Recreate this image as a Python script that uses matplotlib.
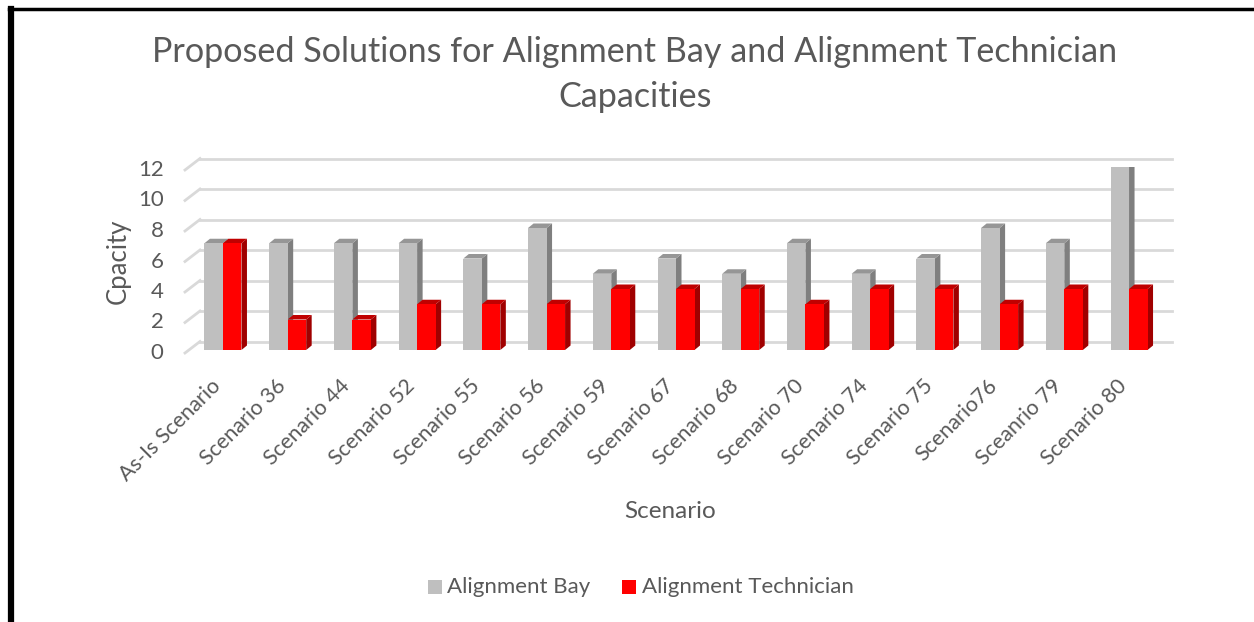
import matplotlib
matplotlib.use('Agg')
import matplotlib.pyplot as plt
import matplotlib.transforms as mtransforms
from matplotlib.patches import Polygon, Rectangle
from matplotlib.lines import Line2D

# Datos
escenarios = ['As-Is Scenario', 'Scenario 36', 'Scenario 44', 'Scenario 52', 'Scenario 55',
              'Scenario 56', 'Scenario 59', 'Scenario 67', 'Scenario 68', 'Scenario 70',
              'Scenario 74', 'Scenario 75', 'Scenario76', 'Sceanrio 79', 'Scenario 80']
bahia = [7, 7, 7, 7, 6, 8, 5, 6, 5, 7, 5, 6, 8, 7, 12]
tecnico = [7, 2, 2, 3, 3, 3, 4, 4, 4, 3, 4, 4, 3, 4, 4]
yticks = [0, 2, 4, 6, 8, 10, 12]

W, H = 1254, 622
FONT = 'Lato'
TXT = '#595959'

def fx(px):
    return px / W

def fy(py):
    return 1 - py / H

fig = plt.figure(figsize=(W / 100, H / 100), dpi=100)

# area de la grafica en pixeles (frente)
x_izq, x_der = 190.6, 1161.4
y_0, y_12 = 350, 167
ax = fig.add_axes([fx(x_izq), fy(y_0), (x_der - x_izq) / W, (y_0 - y_12) / H])
ax.set_xlim(-0.5, len(escenarios) - 0.5)
ax.set_ylim(0, 12)
ax.axis('off')

px_x = (x_der - x_izq) / len(escenarios)
px_y = (y_0 - y_12) / 12.0

# lineas de la cuadricula (pared del fondo + diagonal del piso)
for v in yticks:
    back = mtransforms.offset_copy(ax.transData, fig=fig, x=9.4, y=8.5, units='dots')
    ax.plot([-0.5, len(escenarios) - 0.5 + 1.2 / px_x], [v, v], color='#D9D9D9', lw=2,
            transform=back, clip_on=False, zorder=0)
    ax.plot([-0.5 - 5.6 / px_x, -0.5 + 9.4 / px_x], [v - 3 / px_y, v + 8.5 / px_y],
            color='#D9D9D9', lw=2, clip_on=False, zorder=0)
    ax.text(-0.5 - 27 / px_x, v - 3 / px_y, str(v), ha='right', va='center',
            fontsize=16, color=TXT, family=FONT)

# barras con efecto 3D
ancho = 18.5 / px_x
dx = 5.5 / px_x
dy = 4.5 / px_y
series = [(bahia, -ancho / 2, '#BFBFBF', '#7F7F7F', '#969696'),
          (tecnico, ancho / 2, '#FF0000', '#A00000', '#C00000')]
for valores, desp, c_frente, c_lado, c_arriba in series:
    for i, v in enumerate(valores):
        x0 = i + desp - ancho / 2
        x1 = x0 + ancho
        ax.add_patch(Polygon([(x1, 0), (x1 + dx, dy), (x1 + dx, v + dy), (x1, v)],
                             closed=True, facecolor=c_lado, edgecolor='none', zorder=2))
        ax.add_patch(Polygon([(x0, v), (x0 + dx, v + dy), (x1 + dx, v + dy), (x1, v)],
                             closed=True, facecolor=c_arriba, edgecolor='none', zorder=2))
    ax.bar([i + desp for i in range(len(valores))], valores, width=ancho,
           color=c_frente, zorder=3)

# etiquetas del eje x rotadas
for i, nombre in enumerate(escenarios):
    t = mtransforms.offset_copy(ax.transData, fig=fig, x=-1, y=-37, units='dots')
    ax.text(i, 0, nombre, rotation=45, rotation_mode='anchor', ha='right', va='baseline',
            fontsize=15.5, color=TXT, family=FONT, transform=t)

# titulos
fig.text(fx(635), fy(52), 'Proposed Solutions for Alignment Bay and Alignment Technician',
         ha='center', va='center', fontsize=24.6, color=TXT, family=FONT)
fig.text(fx(635), fy(97), 'Capacities', ha='center', va='center', fontsize=24.6,
         color=TXT, family=FONT)
fig.text(fx(118), fy(261), 'Cpacity', rotation=90, ha='center', va='center',
         fontsize=18.5, color=TXT, family=FONT)
fig.text(fx(670), fy(512), 'Scenario', ha='center', va='center', fontsize=17.5,
         color=TXT, family=FONT)

# leyenda
fig.patches.append(Rectangle((fx(428), fy(594)), 14 / W, 14 / H, facecolor='#BFBFBF',
                             transform=fig.transFigure))
fig.text(fx(447), fy(587), 'Alignment Bay', ha='left', va='center', fontsize=16,
         color=TXT, family=FONT)
fig.patches.append(Rectangle((fx(622), fy(594)), 14 / W, 14 / H, facecolor='#FF0000',
                             transform=fig.transFigure))
fig.text(fx(642), fy(587), 'Alignment Technician', ha='left', va='center', fontsize=16,
         color=TXT, family=FONT)

# marco negro
fig.add_artist(Line2D([fx(11), fx(11)], [fy(8.5), 0], color='black', lw=4.5))
fig.add_artist(Line2D([fx(9), 1], [fy(8.5), fy(8.5)], color='black', lw=2.5))

fig.savefig('out.png', dpi=100)
